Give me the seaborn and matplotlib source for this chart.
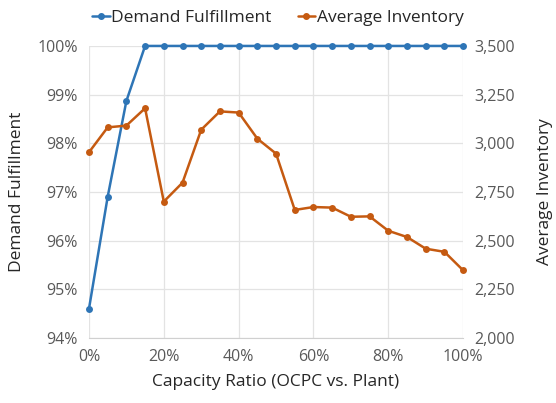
import numpy as np
import matplotlib
matplotlib.use("Agg")
import matplotlib.pyplot as plt
from matplotlib.ticker import FuncFormatter, MultipleLocator
from matplotlib.lines import Line2D
import seaborn as sns
import pandas as pd

sns.set_style("white")
plt.rcParams['font.family'] = ['Open Sans', 'DejaVu Sans']

# data
capacity_ratio = [0, 5, 10, 15, 20, 25, 30, 35, 40, 45, 50,
                  55, 60, 65, 70, 75, 80, 85, 90, 95, 100]
demand_fulfillment = [94.6, 96.9, 98.87, 100, 100, 100, 100, 100, 100, 100, 100,
                      100, 100, 100, 100, 100, 100, 100, 100, 100, 100]
average_inventory = [2954, 3082, 3091, 3180, 2701, 2798, 3070, 3164, 3158, 3024, 2947,
                     2658, 2673, 2670, 2623, 2625, 2551, 2519, 2459, 2443, 2348]

blue = "#2E75B6"
orange = "#C55A11"
grey_txt = "#595959"
grid_col = "#E3E3E3"

df = pd.DataFrame({"ratio": capacity_ratio,
                   "demand": demand_fulfillment,
                   "inventory": average_inventory})

fig, ax = plt.subplots(figsize=[5.56, 4.03], dpi=100)
fig.subplots_adjust(left=0.160, right=0.833, top=0.886, bottom=0.161)
ax2 = ax.twinx()

sns.lineplot(data=df, x="ratio", y="demand", ax=ax, color=blue, marker="o",
             markersize=5, markeredgewidth=0, linewidth=1.8, zorder=3, clip_on=False)
sns.lineplot(data=df, x="ratio", y="inventory", ax=ax2, color=orange, marker="o",
             markersize=5, markeredgewidth=0, linewidth=1.8, zorder=3, clip_on=False)

ax.set_xlim(0, 100)
ax.set_ylim(94, 100)
ax2.set_ylim(2000, 3500)
ax.xaxis.set_major_locator(MultipleLocator(20))
ax.yaxis.set_major_locator(MultipleLocator(1))
ax2.yaxis.set_major_locator(MultipleLocator(250))
ax.xaxis.set_major_formatter(FuncFormatter(lambda v, p: f"{v:.0f}%"))
ax.yaxis.set_major_formatter(FuncFormatter(lambda v, p: f"{v:.0f}%"))
ax2.yaxis.set_major_formatter(FuncFormatter(lambda v, p: f"{v:,.0f}"))

ax.grid(True, color=grid_col, linewidth=0.9)
ax.set_axisbelow(True)
ax2.grid(False)

for a in (ax, ax2):
    for s in a.spines.values():
        s.set_visible(False)
    a.tick_params(length=0, labelsize=11.5, labelcolor=grey_txt, pad=8)
ax.spines["bottom"].set_visible(True)
ax.spines["bottom"].set_color("#D0D0D0")

ax.set_xlabel("Capacity Ratio (OCPC vs. Plant)", fontsize=12.5, color="#262626", labelpad=6)
ax.set_ylabel("Demand Fulfillment", fontsize=12.5, color="#262626", labelpad=9)
ax2.set_ylabel("Average Inventory", fontsize=12.5, color="#262626", labelpad=16)

handles = [Line2D([], [], color=blue, marker="o", markersize=4, linewidth=1.8),
           Line2D([], [], color=orange, marker="o", markersize=4, linewidth=1.8)]
fig.legend(handles, ["Demand Fulfillment", "Average Inventory"], loc="upper center",
           bbox_to_anchor=(0.5, 1.015), ncol=2, frameon=False, fontsize=12.5,
           handlelength=1.0, handletextpad=0.1, columnspacing=1.5)

fig.savefig("out.png", dpi=100)
